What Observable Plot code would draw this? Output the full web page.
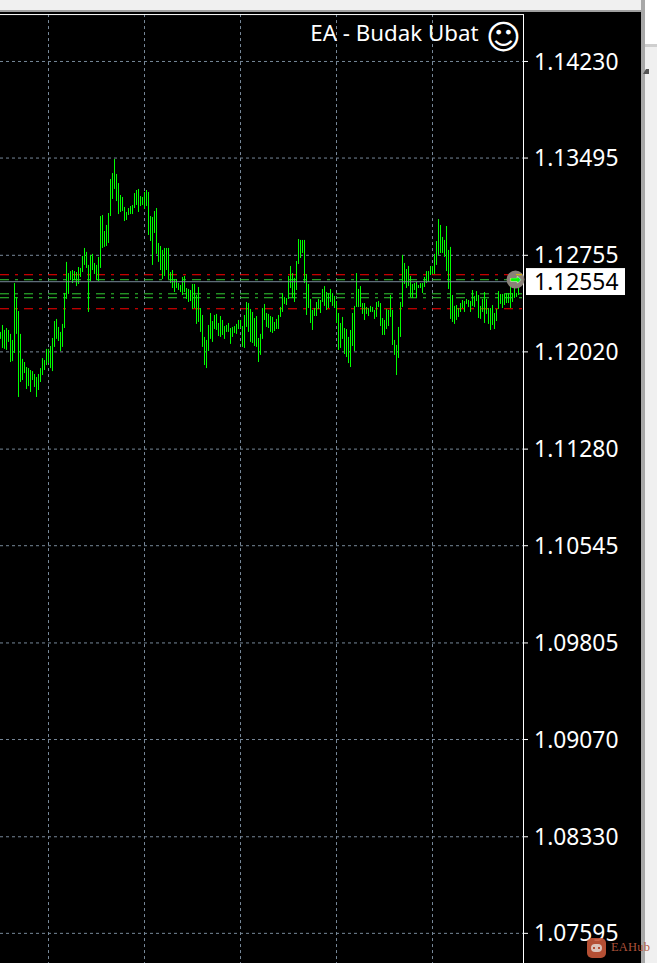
<!DOCTYPE html>
<html>
<head>
<meta charset="utf-8">
<script src="https://cdn.jsdelivr.net/npm/d3@7"></script>
<script src="https://cdn.jsdelivr.net/npm/@observablehq/plot@0.6"></script>
<style>
html,body{margin:0;padding:0;background:#000;overflow:hidden}
#wrap{position:relative;width:657px;height:963px;overflow:hidden;background:#000}
#wrap svg{display:block;position:absolute;left:0;top:0}
.c{position:absolute}
</style>
</head>
<body>
<div id="wrap">
<div id="chart"></div>
<div class="c" style="left:0;top:0;width:641px;height:10px;background:#f0f0f0"></div>
<div class="c" style="left:0;top:10px;width:641px;height:2px;background:#a0a0a0"></div>
<div class="c" style="left:641px;top:0;width:4px;height:963px;background:#a8a8a8"></div>
<div class="c" style="left:645px;top:0;width:12px;height:44px;background:#fff"></div>
<div class="c" style="left:645px;top:44px;width:12px;height:3px;background:#cfcfcf"></div>
<div class="c" style="left:645px;top:47px;width:12px;height:916px;background:#f0f0f0"></div>
<div class="c" style="left:643px;top:69px;width:0;height:0;border-left:3px solid transparent;border-right:3px solid #555;border-bottom:5px solid #555"></div>
<div class="c" style="left:587px;top:938px;width:19px;height:20px;border-radius:5px;background:#c8583a;opacity:.9">
  <div class="c" style="left:4px;top:6px;width:11px;height:8px;border-radius:5px;background:#f3d9cf"></div>
  <div class="c" style="left:6px;top:9px;width:2px;height:2px;background:#c8583a"></div>
  <div class="c" style="left:11px;top:9px;width:2px;height:2px;background:#c8583a"></div>
</div>
<div class="c" style="left:611px;top:940px;font:12.5px 'Liberation Serif',serif;letter-spacing:.2px;color:#b5563d;opacity:.95">EAHub</div>
</div>
<script>
// Prices in points (1/100000); one bar per index.
const highs = [112168,112221,112183,112198,112183,112153,112107,112540,112434,112327,112153,111963,111939,111901,111893,111878,111870,111848,111825,111848,111893,111969,111954,112039,112039,112061,112122,112251,112267,112206,112168,112229,112464,112701,112616,112631,112639,112631,112624,112662,112655,112746,112807,112777,112678,112754,112762,112693,112678,112739,113050,113058,112936,112982,113073,113332,113377,113484,113370,113301,113210,113195,113119,113081,113111,113126,113134,113225,113248,113256,113202,113195,113233,113248,113233,113050,113043,113088,113111,112845,112822,112792,112807,112807,112807,112624,112639,112571,112571,112540,112525,112586,112594,112502,112495,112487,112533,112533,112449,112510,112350,112297,112130,112107,112221,112312,112251,112297,112305,112236,112289,112259,112213,112221,112236,112198,112206,112213,112229,112259,112259,112213,112297,112396,112388,112343,112320,112274,112289,112122,112153,112350,112381,112312,112305,112289,112282,112244,112267,112297,112358,112464,112434,112426,112594,112670,112616,112579,112708,112875,112868,112868,112868,112609,112533,112419,112335,112350,112396,112419,112411,112495,112517,112472,112464,112495,112464,112441,112403,112312,112236,112282,112198,112190,112130,112183,112312,112366,112616,112495,112517,112388,112388,112358,112350,112366,112358,112335,112396,112403,112388,112274,112259,112343,112335,112449,112335,112107,112069,112206,112396,112754,112693,112647,112670,112594,112533,112540,112548,112525,112540,112540,112586,112631,112631,112670,112670,112762,112860,113027,112982,112891,112868,112974,112792,112815,112449,112366,112373,112350,112388,112411,112403,112419,112411,112403,112487,112441,112479,112449,112366,112419,112472,112419,112350,112350,112373,112312,112343,112479,112457,112457,112457,112464,112464,112525,112464,112586,112464,112563];
const lows = [112115,112046,112039,112031,112092,111939,111946,112008,112153,111673,111787,111802,111855,111734,111756,111711,111802,111749,111673,111726,111787,111840,111878,111916,111931,111893,111870,112054,112115,112099,112023,112054,112198,112419,112457,112563,112540,112563,112517,112533,112586,112624,112678,112655,112320,112555,112639,112609,112563,112555,112655,112807,112815,112822,112845,113050,113180,113256,113164,113065,113081,113088,113012,113020,113058,113065,113065,113111,113134,113081,113126,113134,113104,113126,112906,112860,112678,112921,112762,112701,112639,112571,112594,112639,112571,112540,112502,112472,112502,112487,112472,112449,112472,112419,112396,112403,112343,112350,112229,112244,112168,112054,111916,111893,112023,112115,112092,112190,112183,112137,112130,112145,112115,112168,112168,112077,112130,112160,112153,112190,112198,112054,112046,112206,112168,112092,112084,112061,112054,111939,111993,112115,112259,112206,112198,112168,112160,112175,112190,112190,112282,112320,112381,112373,112419,112502,112426,112396,112487,112685,112731,112769,112540,112297,112350,112236,112183,112289,112289,112343,112312,112396,112366,112335,112350,112396,112366,112350,112236,112031,112046,112115,112000,111977,111931,111901,112061,112023,112358,112358,112358,112305,112259,112305,112289,112320,112320,112267,112282,112358,112213,112145,112145,112190,112213,112282,112069,111993,111840,111970,112130,112358,112533,112502,112517,112434,112426,112487,112426,112502,112502,112464,112510,112540,112548,112601,112609,112609,112678,112754,112769,112769,112739,112631,112495,112267,112244,112229,112259,112282,112320,112350,112320,112381,112358,112320,112366,112358,112403,112274,112267,112320,112236,112305,112229,112183,112221,112190,112251,112343,112381,112350,112373,112388,112388,112350,112396,112426,112434,112449];
const priceTicks = [114230,113495,112755,112020,111280,110545,109805,109070,108330,107595];
const timeGrid = [24,72,120,168,216];
const redLevels = [112607,112348];
const greenLevels = [112569,112462,112432];
const bid = [112554];
const bars = highs.map((h,i)=>({i,h,l:lows[i]}));
const fmt = v => (v/100000).toFixed(5);
const FONT = "'Noto Sans',sans-serif";
const axisX = 261.5;
const frameTop = 114587;
const chart = Plot.plot({
  width:657, height:963,
  marginTop:0, marginRight:0, marginBottom:0, marginLeft:0,
  style:{background:"#000",fontFamily:FONT},
  x:{axis:null,domain:[0,328.5],range:[0,657]},
  y:{axis:null,domain:[114694,107365.6],range:[0,963]},
  marks:[
    Plot.ruleX(timeGrid,{x:d=>d,y1:frameTop,y2:107365.6,stroke:"#778899",strokeDasharray:"3,3"}),
    Plot.ruleY(priceTicks,{y:d=>d,x1:0,x2:axisX,stroke:"#778899",strokeDasharray:"3,3"}),
    Plot.ruleY(redLevels,{y:d=>d,x1:0,x2:axisX,stroke:"#ff0000",strokeDasharray:"9,6,3,6"}),
    Plot.ruleY(greenLevels,{y:d=>d,x1:0,x2:axisX,stroke:"#32cd32",strokeDasharray:"9,6,3,6"}),
    Plot.ruleX(bars,{x:"i",y1:"h",y2:"l",stroke:"#00ff00",strokeWidth:1}),
    Plot.ruleY(bid,{y:d=>d,x1:0,x2:axisX,stroke:"#778899"}),
    Plot.ruleX([axisX],{x:d=>d,y1:frameTop,y2:107365.6,stroke:"#fff"}),
    Plot.ruleY([frameTop],{y:d=>d,x1:0,x2:axisX,stroke:"#fff"}),
    Plot.ruleY(priceTicks,{y:d=>d,x1:axisX,x2:264,stroke:"#fff"}),
    Plot.dot(bid,{x:257.5,y:112570,r:9,fill:"#8a8178"}),
    Plot.ruleY([112607],{y:d=>d,x1:258,x2:261,stroke:"#e6c000"}),
    Plot.text(["➡"],{x:257.5,y:112570,text:d=>d,fill:"#00ff00",stroke:"#fff",strokeWidth:.6,fontSize:13,fontFamily:"'DejaVu Sans'"}),
    Plot.rect(bid,{x1:263,x2:312.5,y1:d=>d+100,y2:d=>d-105,fill:"#fff"}),
    Plot.text(priceTicks,{x:266.8,y:d=>d-6,text:d=>fmt(d),textAnchor:"start",fill:"#fff",fontSize:22.8,fontFamily:FONT}),
    Plot.text(bid,{x:266.8,y:d=>d-6,text:d=>fmt(d),textAnchor:"start",fill:"#000",fontSize:22.8,fontFamily:FONT}),
    Plot.text(["EA - Budak Ubat"],{x:239,y:114440,text:d=>d,textAnchor:"end",fill:"#fff",fontSize:22.3,fontFamily:FONT}),
    Plot.text(["☺"],{x:251.5,y:114410,text:d=>d,fill:"#fff",fontSize:34,fontFamily:"'DejaVu Sans'"})
  ]
});
document.getElementById("chart").appendChild(chart);
</script>
</body>
</html>
